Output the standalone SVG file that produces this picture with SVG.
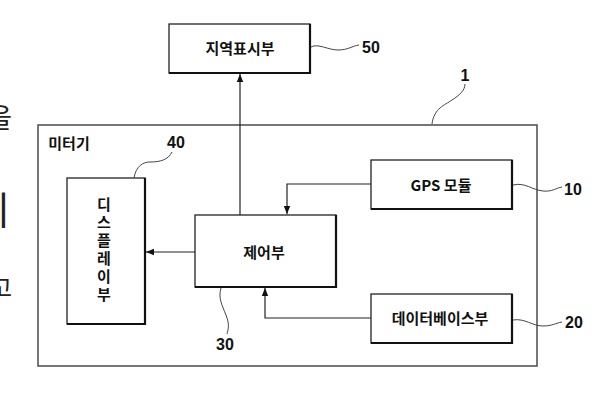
<svg xmlns="http://www.w3.org/2000/svg" width="604" height="397" viewBox="0 0 604 397">
<defs>
<style>
.box{fill:#fff;stroke:#222;stroke-width:1.3}
.sh{fill:none;stroke:#111;stroke-width:2.2}
.outer{fill:none;stroke:#555;stroke-width:1.6}
.ln{fill:none;stroke:#222;stroke-width:1.2}
.ld{fill:none;stroke:#444;stroke-width:1}
.kt{font-family:"Noto Sans CJK KR","Noto Sans",sans-serif;font-weight:bold;font-size:15px;fill:#111;text-anchor:middle}
.vt{font-family:"Noto Sans CJK KR","Noto Sans",sans-serif;font-weight:bold;font-size:15px;fill:#111;text-anchor:middle;writing-mode:vertical-rl;letter-spacing:3px}
.num{font-family:"Liberation Sans","DejaVu Sans",sans-serif;font-weight:bold;font-size:16px;fill:#111;text-anchor:middle}
.frag{font-family:"Noto Sans CJK KR",serif;font-size:27px;fill:#222;text-anchor:end}
</style>
<marker id="ah" viewBox="0 0 10 10" refX="10" refY="5" markerWidth="8" markerHeight="8" markerUnits="userSpaceOnUse" orient="auto">
<path d="M0,1 L10,5 L0,9 Z" fill="#111"/>
</marker>
</defs>
<rect width="604" height="397" fill="#fff"/>
<text class="frag" x="12" y="128">을</text>
<text class="frag" x="10" y="224" style="font-size:38px">이</text>
<text class="frag" x="12" y="297" style="font-size:24px">고</text>

<g id="meter">
<rect class="outer" x="38" y="125" width="499" height="241"/>
<text class="kt" x="69" y="149">미터기</text>
</g>
<g id="region-display">
<rect class="box" x="169" y="24" width="141" height="49"/>
<path class="sh" d="M310,24 V73 H169"/>
<text class="kt" x="240" y="54">지역표시부</text>
</g>
<g id="display">
<rect class="box" x="67" y="178" width="78" height="146"/>
<path class="sh" d="M145,178 V324 H67"/>
<text class="vt" x="104" y="251">디스플레이부</text>
</g>
<g id="control">
<rect class="box" x="195" y="215" width="141" height="72"/>
<path class="sh" d="M336,215 V287 H195"/>
<text class="kt" x="264" y="258">제어부</text>
</g>
<g id="gps">
<rect class="box" x="371" y="160" width="141" height="49"/>
<path class="sh" d="M512,160 V209 H371"/>
<text class="kt" x="441" y="191">GPS 모듈</text>
</g>
<g id="database">
<rect class="box" x="371" y="294" width="141" height="49"/>
<path class="sh" d="M512,294 V343 H371"/>
<text class="kt" x="440" y="324">데이터베이스부</text>
</g>

<g id="connectors">
<path class="ln" d="M240,215 V74" marker-end="url(#ah)"/>
<path class="ln" d="M195,252 H146" marker-end="url(#ah)"/>
<path class="ln" d="M371,184 H287 V214" marker-end="url(#ah)"/>
<path class="ln" d="M371,318 H265 V288" marker-end="url(#ah)"/>
</g>

<g id="labels">
<path class="ld" d="M311,47 C318,43 328,50 338,50 C348,50 352,46 359,45"/>
<text class="num" x="371" y="53">50</text>
<path class="ld" d="M432,124 C434,108 445,105 452,100 C460,95 465,90 465,84"/>
<text class="num" x="465" y="81">1</text>
<path class="ld" d="M134,178 C136,166 143,162 150,162 C160,162 168,160 172,152"/>
<text class="num" x="176" y="148">40</text>
<path class="ld" d="M221,288 C218,298 222,305 226,315 C230,325 228,330 227,334"/>
<text class="num" x="225" y="350">30</text>
<path class="ld" d="M513,185 C525,182 532,190 543,191 C552,192 556,188 562,187"/>
<text class="num" x="573" y="195">10</text>
<path class="ld" d="M513,320 C525,318 532,326 543,326 C552,326 556,323 562,322"/>
<text class="num" x="574" y="328">20</text>
</g>
</svg>
